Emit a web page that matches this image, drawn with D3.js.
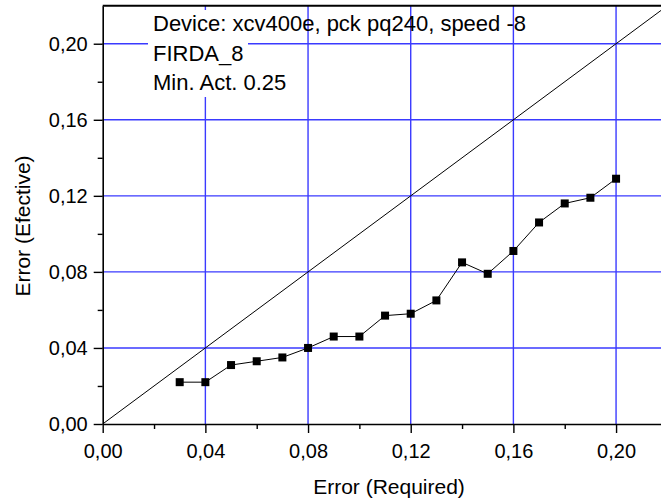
<!DOCTYPE html>
<html>
<head>
  <meta charset="utf-8">
  <script src="https://d3js.org/d3.v7.min.js"></script>
  <style>
    body { margin: 0; background: #fff; }
    svg { display: block; font-family: "Liberation Sans", Arial, sans-serif; }
    .axis path { stroke: #000; stroke-width: 1.6px; }
    .axis line { stroke: #000; stroke-width: 1.4px; }
    .axis text { font-size: 20px; fill: #000; font-family: "Liberation Sans", Arial, sans-serif; }
    .grid line { stroke: #3a3aff; stroke-width: 1.4px; }
    .note { font-size: 22px; fill: #000; }
  </style>
</head>
<body>
<div id="chart"></div>
<script>
// measured points
var required = [0.03, 0.04, 0.05, 0.06, 0.07, 0.08, 0.09, 0.10, 0.11, 0.12, 0.13, 0.14, 0.15, 0.16, 0.17, 0.18, 0.19, 0.20];
var efective = [0.022, 0.022, 0.031, 0.033, 0.035, 0.040, 0.046, 0.046, 0.057, 0.058, 0.065, 0.085, 0.079, 0.091, 0.106, 0.116, 0.119, 0.129];

var majorTicks = [0, 0.04, 0.08, 0.12, 0.16, 0.20];
var minorTicks = [0.02, 0.06, 0.10, 0.14, 0.18];
var diagonal = [0, 0.22];
var noteLines = ["Device: xcv400e, pck pq240, speed -8", "FIRDA_8", "Min. Act. 0.25"];

var W = 661, H = 503;
var margin = {top: 5.7, left: 102.7, bottom: 79};
var plotW = 564.7, plotH = H - margin.top - margin.bottom;

var comma = function(d) { return d3.format(".2f")(d).replace(".", ","); };

var x = d3.scaleLinear().domain([0, 0.22]).range([0, plotW]);
var y = d3.scaleLinear().domain([0, 0.22]).range([plotH, 0]);

var svg = d3.select("#chart").append("svg")
    .attr("width", W)
    .attr("height", H);

var g = svg.append("g")
    .attr("transform", "translate(" + margin.left + "," + margin.top + ")");

// blue grid on major ticks
g.append("g").attr("class", "grid")
  .selectAll("line.v").data(majorTicks.slice(1)).enter().append("line")
    .attr("x1", function(d) { return x(d); }).attr("x2", function(d) { return x(d); })
    .attr("y1", 0).attr("y2", plotH);
g.select(".grid")
  .selectAll("line.h").data(majorTicks.slice(1)).enter().append("line")
    .attr("x1", 0).attr("x2", plotW)
    .attr("y1", function(d) { return y(d); }).attr("y2", function(d) { return y(d); });

// white patch under the note, like the original
g.append("rect")
    .attr("x", 148 - margin.left).attr("y", 10 - margin.top)
    .attr("width", 100).attr("height", 87)
    .attr("fill", "#fff");

// top frame
g.append("line")
    .attr("x1", 0).attr("x2", plotW).attr("y1", 0).attr("y2", 0)
    .attr("stroke", "#000").attr("stroke-width", 2);

// minor ticks
g.append("g").attr("class", "axis")
    .attr("transform", "translate(0," + plotH + ")")
    .call(d3.axisBottom(x).tickValues(minorTicks).tickSize(5).tickFormat(""))
    .select(".domain").remove();
g.append("g").attr("class", "axis")
    .call(d3.axisLeft(y).tickValues(minorTicks).tickSize(5).tickFormat(""))
    .select(".domain").remove();

// major axes
g.append("g").attr("class", "axis")
    .attr("transform", "translate(0," + plotH + ")")
    .call(d3.axisBottom(x).tickValues(majorTicks).tickSize(9).tickSizeOuter(0).tickPadding(11).tickFormat(comma));
g.append("g").attr("class", "axis")
    .call(d3.axisLeft(y).tickValues(majorTicks).tickSize(9).tickSizeOuter(0).tickPadding(6).tickFormat(comma));

// y = x reference line
g.append("line")
    .attr("x1", x(diagonal[0])).attr("y1", y(diagonal[0]))
    .attr("x2", x(diagonal[1])).attr("y2", y(diagonal[1]))
    .attr("stroke", "#000").attr("stroke-width", 1);

var pts = required.map(function(d, i) { return [d, efective[i]]; });

g.append("path")
    .datum(pts)
    .attr("fill", "none")
    .attr("stroke", "#000")
    .attr("stroke-width", 1)
    .attr("d", d3.line().x(function(d) { return x(d[0]); }).y(function(d) { return y(d[1]); }));

g.selectAll(".pt").data(pts).enter().append("rect")
    .attr("class", "pt")
    .attr("x", function(d) { return x(d[0]) - 4; })
    .attr("y", function(d) { return y(d[1]) - 4; })
    .attr("width", 8).attr("height", 8)
    .attr("fill", "#000");

// note text
svg.selectAll(".note").data(noteLines).enter().append("text")
    .attr("class", "note")
    .attr("x", 153)
    .attr("y", function(d, i) { return 31 + i * 29.5; })
    .text(function(d) { return d; });

// axis titles
svg.append("text")
    .attr("x", 389).attr("y", 494)
    .attr("text-anchor", "middle")
    .style("font-size", "21px")
    .text("Error (Required)");

svg.append("text")
    .attr("transform", "translate(30,226) rotate(-90)")
    .attr("text-anchor", "middle")
    .style("font-size", "21px")
    .text("Error (Efective)");
</script>
</body>
</html>
